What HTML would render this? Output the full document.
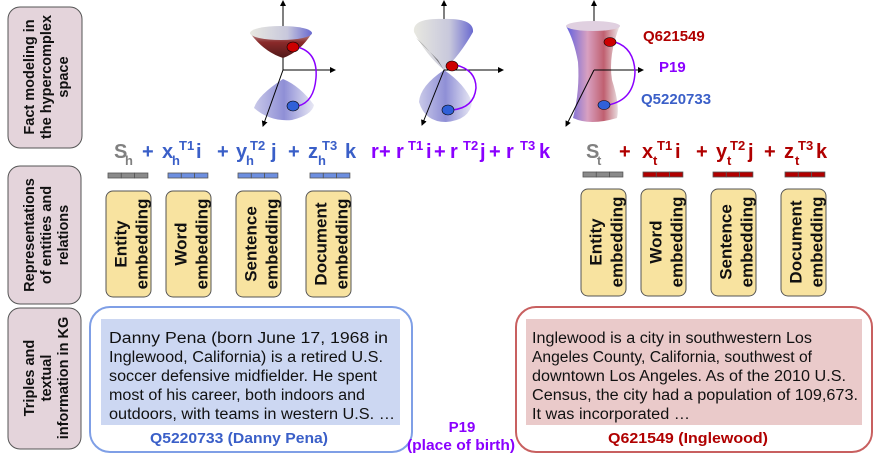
<!DOCTYPE html>
<html><head><meta charset="utf-8"><style>
body{margin:0;background:#fff;width:878px;height:460px;overflow:hidden}
svg{display:block;font-family:"Liberation Sans",sans-serif}
.b{font-weight:bold}
</style></head><body>
<svg width="878" height="460" viewBox="0 0 878 460" xmlns="http://www.w3.org/2000/svg">
<defs>
<linearGradient id="cb" x1="0" x2="1"><stop offset="0" stop-color="#c9c9e8"/><stop offset=".5" stop-color="#8f8fd6"/><stop offset="1" stop-color="#e8e8f4"/></linearGradient>
<linearGradient id="cr" x1="0" y1="0" x2="0" y2="1"><stop offset="0" stop-color="#e6e6e6"/><stop offset=".5" stop-color="#8a2a2a"/><stop offset="1" stop-color="#501818"/></linearGradient>
<linearGradient id="cg" x1="0" x2="1"><stop offset="0" stop-color="#e8e8e0"/><stop offset=".6" stop-color="#c8c8dc"/><stop offset="1" stop-color="#6a6ad0"/></linearGradient>
<linearGradient id="hy" x1="0" x2="1"><stop offset="0" stop-color="#6060e0"/><stop offset=".4" stop-color="#d8a0c0"/><stop offset=".7" stop-color="#c06070"/><stop offset="1" stop-color="#eeeeee"/></linearGradient>
<marker id="ar" markerWidth="6" markerHeight="6" refX="5" refY="3" orient="auto"><path d="M0,0L6,3L0,6z" fill="#000"/></marker>
</defs>
<g fill="#e4d4db" stroke="#555" stroke-width="1">
<rect x="8" y="7" width="74" height="141" rx="12"/>
<rect x="8" y="166" width="73" height="138" rx="12"/>
<rect x="8" y="308" width="73" height="141" rx="12"/>
</g>
<g class="b" font-size="14.5" fill="#111" text-anchor="middle">
<text transform="translate(45,77) rotate(-90)"><tspan x="0" y="-11">Fact modeling in</tspan><tspan x="0" y="6">the hypercomplex</tspan><tspan x="0" y="23">space</tspan></text>
<text transform="translate(45,235) rotate(-90)"><tspan x="0" y="-11">Representations</tspan><tspan x="0" y="6">of entities and</tspan><tspan x="0" y="23">relations</tspan></text>
<text transform="translate(45,378) rotate(-90)"><tspan x="0" y="-11">Triples and</tspan><tspan x="0" y="6">textual</tspan><tspan x="0" y="23">information in KG</tspan></text>
</g>
<g>
<line x1="283" y1="70" x2="283" y2="1" stroke="#000" marker-end="url(#ar)"/>
<path d="M250,33 Q283,20 312,33 Q300,52 283,58 Q264,52 250,33z" fill="url(#cr)"/>
<ellipse cx="281" cy="33" rx="31" ry="7" fill="url(#cg)"/>
<path d="M283,79 Q258,95 254,108 Q270,122 292,120 Q312,115 314,105 Q300,86 283,79z" fill="url(#cb)"/>
<line x1="283" y1="70" x2="335" y2="70" stroke="#000" marker-end="url(#ar)"/>
<line x1="283" y1="70" x2="263" y2="126" stroke="#000" marker-end="url(#ar)"/>
<path d="M297,47 Q318,52 316,78 Q314,102 298,106" fill="none" stroke="#8a00ff" stroke-width="1.5"/>
<ellipse cx="293" cy="47" rx="6" ry="5" fill="#c00" stroke="#000" stroke-width=".6"/>
<ellipse cx="293" cy="106" rx="6" ry="5" fill="#3060d8" stroke="#000" stroke-width=".6"/>
</g>
<g>
<line x1="444" y1="70" x2="444" y2="1" stroke="#000" marker-end="url(#ar)"/>
<path d="M414,32 Q412,18 443,19 Q474,18 473,32 Q460,55 444,70 Q426,55 414,32z" fill="url(#cg)"/>
<path d="M444,70 Q430,50 416,38 L438,60z" fill="#333" opacity=".6"/>
<path d="M444,70 Q420,86 419,102 Q425,122 446,122 Q470,120 472,102 Q465,84 444,70z" fill="url(#cb)"/>
<line x1="444" y1="70" x2="503" y2="70" stroke="#000" marker-end="url(#ar)"/>
<line x1="444" y1="70" x2="422" y2="125" stroke="#000" marker-end="url(#ar)"/>
<path d="M456,65 Q476,70 476,88 Q474,108 452,110" fill="none" stroke="#8a00ff" stroke-width="1.5"/>
<ellipse cx="452" cy="66" rx="6" ry="5" fill="#c00" stroke="#000" stroke-width=".6"/>
<ellipse cx="448" cy="110" rx="6" ry="5" fill="#3060d8" stroke="#000" stroke-width=".6"/>
</g>
<g>
<line x1="594" y1="70" x2="594" y2="1" stroke="#000" marker-end="url(#ar)"/>
<path d="M566,26 Q590,20 620,25 Q608,55 612,80 Q620,105 617,118 Q590,126 573,118 Q580,90 578,62 Q574,40 566,26z" fill="url(#hy)"/>
<ellipse cx="593" cy="26" rx="27" ry="5" fill="#e0d0e0"/>
<line x1="594" y1="70" x2="643" y2="70" stroke="#000" marker-end="url(#ar)"/>
<line x1="594" y1="70" x2="566" y2="126" stroke="#000" marker-end="url(#ar)"/>
<path d="M615,42 Q634,48 635,72 Q634,100 608,105" fill="none" stroke="#8a00ff" stroke-width="1.5"/>
<ellipse cx="610" cy="42" rx="6" ry="4.5" fill="#c00" stroke="#000" stroke-width=".6"/>
<ellipse cx="604" cy="105" rx="6" ry="4.5" fill="#3060d8" stroke="#000" stroke-width=".6"/>
</g>
<g class="b" font-size="15">
<text x="643" y="41" fill="#b00000">Q621549</text>
<text x="659" y="72" fill="#8a00ff">P19</text>
<text x="641" y="104" fill="#3a5fc8">Q5220733</text>
</g>
<g class="b" font-size="20">
<text x="114" y="158" fill="#808080">S</text>
<text x="142" y="158" fill="#3a5fc8">+</text>
<text x="162" y="158" fill="#3a5fc8">x</text><text x="196" y="158" fill="#3a5fc8">i</text>
<text x="217" y="158" fill="#3a5fc8">+</text>
<text x="236" y="158" fill="#3a5fc8">y</text><text x="271" y="158" fill="#3a5fc8">j</text>
<text x="288" y="158" fill="#3a5fc8">+</text>
<text x="308" y="158" fill="#3a5fc8">z</text><text x="345" y="158" fill="#3a5fc8">k</text>
<text x="371" y="158" fill="#8a00ff">r</text><text x="379" y="158" fill="#8a00ff">+</text><text x="396" y="158" fill="#8a00ff">r</text><text x="426" y="158" fill="#8a00ff">i</text><text x="434" y="158" fill="#8a00ff">+</text><text x="450" y="158" fill="#8a00ff">r</text><text x="480" y="158" fill="#8a00ff">j</text><text x="489" y="158" fill="#8a00ff">+</text><text x="506" y="158" fill="#8a00ff">r</text><text x="539" y="158" fill="#8a00ff">k</text>
<text x="586" y="158" fill="#808080">S</text>
<text x="619" y="158" fill="#b00000">+</text>
<text x="642" y="158" fill="#b00000">x</text><text x="675" y="158" fill="#b00000">i</text>
<text x="696" y="158" fill="#b00000">+</text>
<text x="716" y="158" fill="#b00000">y</text><text x="748" y="158" fill="#b00000">j</text>
<text x="764" y="158" fill="#b00000">+</text>
<text x="784" y="158" fill="#b00000">z</text><text x="816" y="158" fill="#b00000">k</text>
</g>
<g class="b" font-size="13">
<text x="125" y="165" fill="#808080">h</text>
<text x="172" y="165" fill="#3a5fc8">h</text><text x="179" y="150" fill="#3a5fc8">T1</text>
<text x="246" y="165" fill="#3a5fc8">h</text><text x="250" y="150" fill="#3a5fc8">T2</text>
<text x="318" y="165" fill="#3a5fc8">h</text><text x="322" y="150" fill="#3a5fc8">T3</text>
<text x="408" y="150" fill="#8a00ff">T1</text><text x="463" y="150" fill="#8a00ff">T2</text><text x="520" y="150" fill="#8a00ff">T3</text>
<text x="597" y="165" fill="#808080">t</text>
<text x="653" y="165" fill="#b00000">t</text><text x="657" y="150" fill="#b00000">T1</text>
<text x="727" y="165" fill="#b00000">t</text><text x="730" y="150" fill="#b00000">T2</text>
<text x="795" y="165" fill="#b00000">t</text><text x="798" y="150" fill="#b00000">T3</text>
</g>
<g stroke="#555" stroke-width=".8">
<g fill="#8a8a8a"><rect x="108" y="173" width="13.3" height="5"/><rect x="121.3" y="173" width="13.3" height="5"/><rect x="134.6" y="173" width="13.3" height="5"/></g>
<g fill="#6d8fe0"><rect x="168" y="173" width="13.3" height="5"/><rect x="181.3" y="173" width="13.3" height="5"/><rect x="194.6" y="173" width="13.3" height="5"/>
<rect x="238" y="173" width="13.3" height="5"/><rect x="251.3" y="173" width="13.3" height="5"/><rect x="264.6" y="173" width="13.3" height="5"/>
<rect x="310" y="173" width="13.3" height="5"/><rect x="323.3" y="173" width="13.3" height="5"/><rect x="336.6" y="173" width="13.3" height="5"/></g>
<g fill="#8a8a8a"><rect x="583" y="172" width="13.3" height="5"/><rect x="596.3" y="172" width="13.3" height="5"/><rect x="609.6" y="172" width="13.3" height="5"/></g>
<g fill="#b00000"><rect x="643" y="172" width="13.3" height="5"/><rect x="656.3" y="172" width="13.3" height="5"/><rect x="669.6" y="172" width="13.3" height="5"/>
<rect x="713" y="172" width="13.3" height="5"/><rect x="726.3" y="172" width="13.3" height="5"/><rect x="739.6" y="172" width="13.3" height="5"/>
<rect x="785" y="172" width="13.3" height="5"/><rect x="798.3" y="172" width="13.3" height="5"/><rect x="811.6" y="172" width="13.3" height="5"/></g>
</g>
<g fill="#f8e3a0" stroke="#555" stroke-width="1">
<rect x="106" y="191" width="45" height="106" rx="7"/><rect x="166" y="191" width="45" height="106" rx="7"/><rect x="236" y="191" width="45" height="106" rx="7"/><rect x="306" y="191" width="45" height="106" rx="7"/>
<rect x="581" y="189" width="45" height="107" rx="7"/><rect x="641" y="189" width="45" height="107" rx="7"/><rect x="711" y="189" width="45" height="107" rx="7"/><rect x="781" y="189" width="45" height="107" rx="7"/>
</g>
<g class="b" font-size="17" fill="#111" text-anchor="middle">
<text transform="translate(128.5,244) rotate(-90)"><tspan x="0" y="-2">Entity</tspan><tspan x="0" y="19">embedding</tspan></text>
<text transform="translate(188.5,244) rotate(-90)"><tspan x="0" y="-2">Word</tspan><tspan x="0" y="19">embedding</tspan></text>
<text transform="translate(258.5,244) rotate(-90)"><tspan x="0" y="-2">Sentence</tspan><tspan x="0" y="19">embedding</tspan></text>
<text transform="translate(328.5,244) rotate(-90)"><tspan x="0" y="-2">Document</tspan><tspan x="0" y="19">embedding</tspan></text>
<text transform="translate(603.5,242) rotate(-90)"><tspan x="0" y="-2">Entity</tspan><tspan x="0" y="19">embedding</tspan></text>
<text transform="translate(663.5,242) rotate(-90)"><tspan x="0" y="-2">Word</tspan><tspan x="0" y="19">embedding</tspan></text>
<text transform="translate(733.5,242) rotate(-90)"><tspan x="0" y="-2">Sentence</tspan><tspan x="0" y="19">embedding</tspan></text>
<text transform="translate(803.5,242) rotate(-90)"><tspan x="0" y="-2">Document</tspan><tspan x="0" y="19">embedding</tspan></text>
</g>
<rect x="90" y="307" width="322" height="145" rx="20" fill="none" stroke="#7f9fe6" stroke-width="2"/>
<rect x="101" y="319" width="299" height="106" fill="#ccd7f2"/>
<rect x="516" y="307" width="356" height="145" rx="20" fill="none" stroke="#c86060" stroke-width="2"/>
<rect x="526" y="319" width="336" height="106" fill="#eacaca"/>
<g font-size="15.5" fill="#111">
<text x="109" y="343" textLength="279" lengthAdjust="spacingAndGlyphs">Danny Pena (born June 17, 1968 in</text>
<text x="109" y="362" textLength="274" lengthAdjust="spacingAndGlyphs">Inglewood, California) is a retired U.S.</text>
<text x="109" y="381" textLength="268" lengthAdjust="spacingAndGlyphs">soccer defensive midfielder. He spent</text>
<text x="109" y="400" textLength="256" lengthAdjust="spacingAndGlyphs">most of his career, both indoors and</text>
<text x="109" y="419" textLength="286" lengthAdjust="spacingAndGlyphs">outdoors, with teams in western U.S. …</text>
<text x="532" y="343" textLength="280" lengthAdjust="spacingAndGlyphs">Inglewood is a city in southwestern Los</text>
<text x="532" y="362" textLength="280" lengthAdjust="spacingAndGlyphs">Angeles County, California, southwest of</text>
<text x="532" y="381" textLength="314" lengthAdjust="spacingAndGlyphs">downtown Los Angeles. As of the 2010 U.S.</text>
<text x="532" y="400" textLength="326" lengthAdjust="spacingAndGlyphs">Census, the city had a population of 109,673.</text>
<text x="532" y="419" textLength="158" lengthAdjust="spacingAndGlyphs">It was incorporated …</text>
</g>
<g class="b" font-size="15" text-anchor="middle">
<text x="239" y="443" fill="#3a5fc8" textLength="178" lengthAdjust="spacingAndGlyphs">Q5220733 (Danny Pena)</text>
<text x="688" y="443" fill="#b00000" textLength="160" lengthAdjust="spacingAndGlyphs">Q621549 (Inglewood)</text>
<text x="462" y="432" fill="#8a00ff">P19</text>
<text x="461" y="450" fill="#8a00ff" textLength="108" lengthAdjust="spacingAndGlyphs">(place of birth)</text>
</g>
</svg>
</body></html>
